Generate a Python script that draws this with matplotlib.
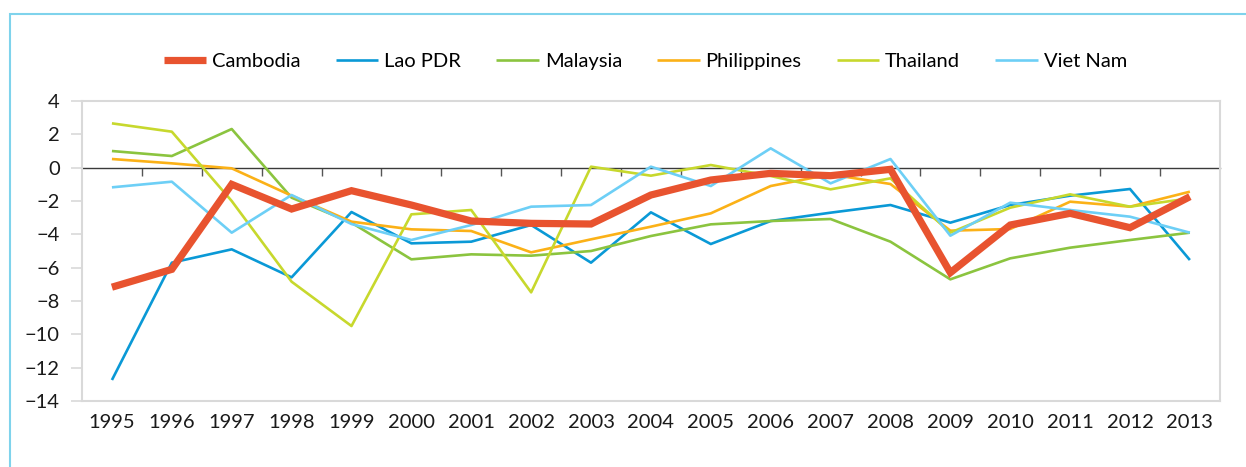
import numpy as np
import matplotlib
matplotlib.use('Agg')
from matplotlib import pyplot as plt
from matplotlib.patches import Rectangle

plt.rcParams['font.family'] = ['Lato', 'DejaVu Sans']
plt.rcParams['axes.unicode_minus'] = True

years = [str(y) for y in range(1995, 2014)]

cambodia = [-7.17, -6.1, -1.0, -2.48, -1.38, -2.24, -3.2, -3.34, -3.38, -1.64,
            -0.74, -0.34, -0.48, -0.1, -6.3, -3.44, -2.74, -3.6, -1.74]
lao_pdr = [-12.74, -5.7, -4.9, -6.58, -2.66, -4.54, -4.44, -3.44, -5.7, -2.68,
           -4.58, -3.2, -2.7, -2.24, -3.3, -2.24, -1.68, -1.28, -5.54]
malaysia = [1.0, 0.7, 2.32, -1.8, -3.3, -5.5, -5.2, -5.28, -5.0, -4.1,
            -3.4, -3.2, -3.08, -4.44, -6.7, -5.44, -4.8, -4.34, -3.9]
philippines = [0.52, 0.26, -0.04, -1.68, -3.24, -3.7, -3.8, -5.08, -4.3, -3.54,
               -2.74, -1.1, -0.4, -0.98, -3.78, -3.68, -2.04, -2.34, -1.44]
thailand = [2.66, 2.16, -2.0, -6.84, -9.5, -2.8, -2.54, -7.48, 0.06, -0.48,
            0.16, -0.5, -1.3, -0.64, -3.9, -2.4, -1.6, -2.34, -1.84]
viet_nam = [-1.18, -0.84, -3.9, -1.64, -3.38, -4.34, -3.44, -2.34, -2.24, 0.06,
            -1.1, 1.16, -0.94, 0.52, -4.08, -2.1, -2.54, -2.94, -3.9]

x = np.arange(len(years))

fig = plt.figure(figsize=(12.46, 4.67), dpi=100)
ax = fig.add_axes([0.0658, 0.1413, 0.9132, 0.6424])

# 细线先画，柬埔寨粗线最后画在最上层
series = [('Lao PDR', lao_pdr, '#0a99d6'),
          ('Malaysia', malaysia, '#8bc43f'),
          ('Philippines', philippines, '#fbb117'),
          ('Thailand', thailand, '#c7d82d'),
          ('Viet Nam', viet_nam, '#6dcff6')]
handles = {}
for name, vals, col in series:
    ln, = ax.plot(x, vals, color=col, lw=1.9, label=name, zorder=3,
                  solid_capstyle='butt')
    handles[name] = ln
ln, = ax.plot(x, cambodia, color='#e8532f', lw=5.2, label='Cambodia', zorder=4,
              solid_joinstyle='miter', solid_capstyle='butt')
handles['Cambodia'] = ln

ax.set_xlim(-0.5, len(years) - 0.5)
ax.set_ylim(-14, 4)
ax.set_yticks(np.arange(-14, 5, 2))

# 零线与类别分界刻度
ax.spines['bottom'].set_position(('data', 0))
ax.spines['bottom'].set_color('#3a3a3a')
ax.spines['bottom'].set_linewidth(1.0)
ax.spines['bottom'].set_zorder(2)
ax.set_xticks(x[:-1] + 0.5)
ax.tick_params(axis='x', length=6, width=1, color='#555555', labelbottom=False, direction='out')
for s in ['top', 'left', 'right']:
    ax.spines[s].set_color('#d9d9d9')
    ax.spines[s].set_linewidth(1.5)
ax.tick_params(axis='y', length=8, width=1.2, color='#d9d9d9', pad=8, labelsize=14.5,
               labelcolor='#1a1a1a')

sec = ax.secondary_xaxis('bottom')
sec.set_xticks(x, labels=years)
sec.tick_params(length=0, pad=9, labelsize=14.5, labelcolor='#1a1a1a')
sec.spines['bottom'].set_color('#d9d9d9')
sec.spines['bottom'].set_linewidth(1.5)

order = ['Cambodia', 'Lao PDR', 'Malaysia', 'Philippines', 'Thailand', 'Viet Nam']
fig.legend([handles[n] for n in order], order, loc='center', ncol=6,
           bbox_to_anchor=(0.518, 0.869), frameon=False, fontsize=14.5,
           handlelength=2.1, handletextpad=0.3, columnspacing=1.75)

# 外框
fig.add_artist(Rectangle((9.5 / 1246, -0.1), 1.2, 1.1 - 14 / 467, transform=fig.transFigure,
                         fill=False, edgecolor='#7fd3ec', lw=1.5))

fig.savefig('out.png', dpi=100)
